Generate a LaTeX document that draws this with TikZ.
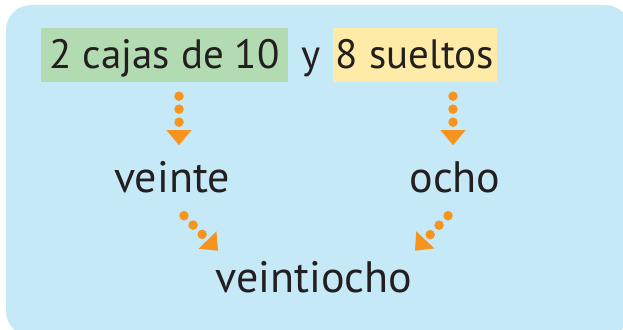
\documentclass[tikz,border=0pt]{standalone}
\usepackage{fontspec}
\setmainfont{PT Sans}
\usetikzlibrary{arrows.meta,positioning}
\definecolor{fondo}{HTML}{C6E9F8}
\definecolor{verde}{HTML}{B3DBB1}
\definecolor{amarillo}{HTML}{FFEBA8}
\definecolor{naranja}{HTML}{F7941D}
\definecolor{tinta}{HTML}{231F20}

\begin{document}
\begin{tikzpicture}[
			x=1pt, y=-1pt,
			font=\fontsize{44}{50}\selectfont,
			caja/.style={inner sep=0pt, text height=40pt, text depth=14pt, anchor=base, text=tinta,
				font=\fontsize{41}{48}\selectfont},
			palabra/.style={inner sep=0pt, anchor=base, text=tinta},
			flecha/.style={naranja, line width=9.5pt, line cap=round, dash pattern=on 0pt off 13pt,
				-{Triangle[length=15pt, width=25pt, line width=0pt]}}
		]

		\useasboundingbox (0,0) rectangle (623,329);
		\fill[fondo, rounded corners=25pt] (6,5) rectangle (630,336);

		\node[caja, fill=verde, minimum width=247pt] (cajas) at (164.5,68) {2 cajas de 10};
		\node[palabra, font=\fontsize{41}{48}\selectfont] (y) at (311,68) {y};
		\node[caja, fill=amarillo, minimum width=164pt] (sueltos) at (415,68) {8 sueltos};

		\node[palabra] (veinte) at (172,192) {veinte};
		\node[palabra] (ocho) at (455,192) {ocho};
		\node[palabra] (veintiocho) at (314,292) {veintiocho};

		\draw[flecha] ([xshift=14.5pt, yshift=-14pt]cajas.south) -- ++(0,49);
		\draw[flecha] ([xshift=38pt, yshift=-14pt]sueltos.south) -- ++(0,49);
		\draw[flecha] ([xshift=12pt, yshift=-23pt]veinte.south) -- ++(34,35);
		\draw[flecha] ([xshift=-7pt, yshift=-23pt]ocho.south) -- ++(-33,35);
	\end{tikzpicture}
\end{document}
